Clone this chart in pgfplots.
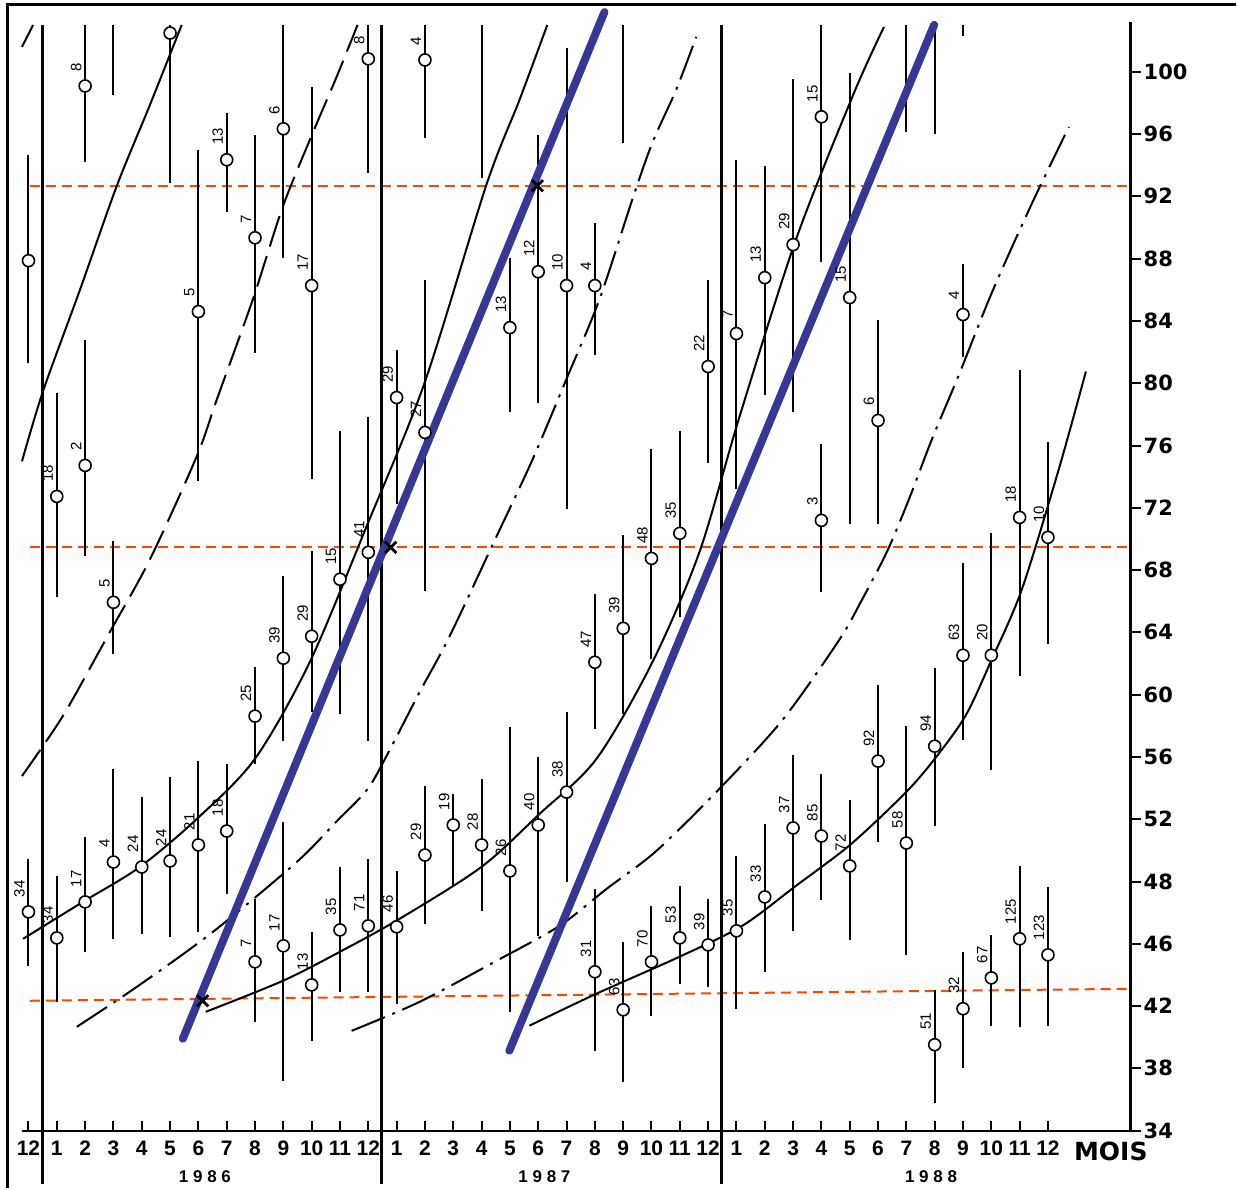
\documentclass[border=0pt]{standalone}
\usepackage{pgfplots}
\pgfplotsset{compat=1.18}
\usepackage{pgfplotstable}
\usepackage{fontspec}
\setmainfont{Liberation Sans}
\newfontfamily\dejavu{DejaVu Sans}
\definecolor{redline}{RGB}{255,69,0}
\definecolor{blueline}{RGB}{55,55,150}

% month index (0 = Dec 1985), value, bar low, bar high, label
\pgfplotstableread{
x y lo hi lab
0 48.05 44.58 51.45 34
1 74.73 68.25 81.40 18
1 46.38 42.27 50.36 34
2 101.09 96.22 105.01 8
2 76.72 70.88 84.80 2
2 48.69 45.48 52.86 17
3 67.93 64.60 71.84 5
3 51.25 46.32 57.22 4
4 50.93 46.64 55.42 24
5 51.32 46.44 56.71 24
6 86.60 75.69 96.99 5
6 52.35 46.76 57.73 21
7 96.35 93.01 99.36 13
7 53.24 49.20 57.54 18
8 91.34 83.97 97.95 7
8 60.62 57.54 63.76 25
8 44.84 40.99 48.88 7
9 98.34 90.06 105.01 6
9 64.34 59.02 69.60 39
9 45.87 37.21 53.82 17
10 88.27 75.82 101.03 17
10 65.75 60.88 71.20 29
10 43.36 39.77 46.76 13
11 69.41 60.75 78.90 15
11 46.89 42.92 50.93 35
12 102.83 95.51 105.01 8
12 71.14 59.02 79.86 41
12 47.15 42.92 51.45 71
13 81.08 74.22 84.16 29
13 47.09 42.15 50.68 46
14 102.76 97.76 105.01 4
14 78.84 68.64 88.65 27
14 51.70 47.28 56.13 29
15 53.63 49.72 55.62 19
16 52.35 48.11 56.58 28
17 85.57 80.12 90.06 13
17 50.68 41.63 59.91 26
18 89.16 80.76 97.95 12
18 53.63 46.51 57.99 40
19 88.27 73.90 103.53 10
19 55.74 49.97 60.88 38
20 88.27 83.84 92.31 4
20 64.08 59.79 68.45 47
20 44.20 39.13 49.52 31
21 66.26 60.75 72.23 39
21 41.76 37.14 46.12 63
22 70.75 64.28 77.75 48
22 44.84 41.38 48.43 70
23 72.36 66.97 78.90 35
23 46.38 43.43 49.72 53
24 83.07 76.85 88.65 22
24 45.93 43.24 48.88 39
25 85.19 75.18 96.35 7
25 46.83 41.83 51.64 35
26 88.78 81.27 95.96 13
26 49.01 44.20 53.69 33
27 90.90 80.12 101.54 29
27 53.44 46.83 58.12 37
28 99.11 89.81 105.01 15
28 73.19 68.57 78.07 3
28 52.92 48.82 56.90 85
29 87.50 72.94 101.93 15
29 51.00 46.25 55.23 72
30 79.61 72.94 86.09 6
30 57.73 52.54 62.61 92
31 52.47 45.29 59.98 58
32 58.69 53.56 63.70 94
32 39.52 35.80 43.04 51
33 86.41 83.71 89.68 4
33 64.53 59.08 70.43 63
33 41.83 38.04 45.48 32
34 64.53 57.16 72.36 20
34 43.81 40.74 46.57 67
35 73.38 63.19 82.88 18
35 46.32 40.67 51.00 125
36 72.10 65.24 78.20 10
36 45.29 40.74 49.65 123
}\labeled

\pgfplotstableread{
x y lo hi
0 89.87 83.33 96.67
5 104.49 94.87 105.01
}\unlabeled

\begin{document}
\begin{tikzpicture}
\begin{axis}[
  scale only axis, width=555pt, height=555pt,
  xmin=-0.23, xmax=38.92, ymin=34, ymax=105.2,
  clip=false,
  axis x line=bottom, axis y line=right,
  axis line style={-},
  x axis line style={line width=1pt},
  y axis line style={line width=1.5pt},
  major tick length=0pt,
  xtick={0,...,36},
  xticklabels={12,1,2,3,4,5,6,7,8,9,10,11,12,1,2,3,4,5,6,7,8,9,10,11,12,1,2,3,4,5,6,7,8,9,10,11,12},
  ytick={34,38,...,102},
  yticklabels={34,38,42,46,48,52,56,60,64,68,72,76,80,84,88,92,96,100},
  xticklabel style={font=\bfseries\fontsize{10.5}{12}\selectfont, yshift=-1.5pt},
  yticklabel style={font=\dejavu\bfseries\fontsize{10.5}{12}\selectfont, xshift=3pt},
]
% red dashed reference lines
\addplot[redline, line width=1pt, dash pattern=on 5pt off 3pt] coordinates {(0.05,94.68) (38.92,94.68)};
\addplot[redline, line width=1pt, dash pattern=on 5pt off 3pt] coordinates {(0.05,71.46) (38.92,71.46)};
\addplot[redline, line width=1pt, dash pattern=on 5pt off 3pt] coordinates {(0.05,42.34) (38.92,43.11)};

% tick spikes on the month axis and the value axis
\addplot[black, line width=1pt, unbounded coords=jump] coordinates {
 (0,34) (0,34.64) (0,nan) (1,34) (1,34.64) (1,nan) (2,34) (2,34.64) (2,nan) (3,34) (3,34.64) (3,nan)
 (4,34) (4,34.64) (4,nan) (5,34) (5,34.64) (5,nan) (6,34) (6,34.64) (6,nan) (7,34) (7,34.64) (7,nan)
 (8,34) (8,34.64) (8,nan) (9,34) (9,34.64) (9,nan) (10,34) (10,34.64) (10,nan) (11,34) (11,34.64) (11,nan)
 (12,34) (12,34.64) (12,nan) (13,34) (13,34.64) (13,nan) (14,34) (14,34.64) (14,nan) (15,34) (15,34.64) (15,nan)
 (16,34) (16,34.64) (16,nan) (17,34) (17,34.64) (17,nan) (18,34) (18,34.64) (18,nan) (19,34) (19,34.64) (19,nan)
 (20,34) (20,34.64) (20,nan) (21,34) (21,34.64) (21,nan) (22,34) (22,34.64) (22,nan) (23,34) (23,34.64) (23,nan)
 (24,34) (24,34.64) (24,nan) (25,34) (25,34.64) (25,nan) (26,34) (26,34.64) (26,nan) (27,34) (27,34.64) (27,nan)
 (28,34) (28,34.64) (28,nan) (29,34) (29,34.64) (29,nan) (30,34) (30,34.64) (30,nan) (31,34) (31,34.64) (31,nan)
 (32,34) (32,34.64) (32,nan) (33,34) (33,34.64) (33,nan) (34,34) (34,34.64) (34,nan) (35,34) (35,34.64) (35,nan)
 (36,34) (36,34.64)};
\addplot[black, line width=1pt, unbounded coords=jump] coordinates {
 (38.92,34) (39.27,34) (nan,34) (38.92,38) (39.27,38) (nan,38) (38.92,42) (39.27,42) (nan,42)
 (38.92,46) (39.27,46) (nan,46) (38.92,50) (39.27,50) (nan,50) (38.92,54) (39.27,54) (nan,54)
 (38.92,58) (39.27,58) (nan,58) (38.92,62) (39.27,62) (nan,62) (38.92,66) (39.27,66) (nan,66)
 (38.92,70) (39.27,70) (nan,70) (38.92,74) (39.27,74) (nan,74) (38.92,78) (39.27,78) (nan,78)
 (38.92,82) (39.27,82) (nan,82) (38.92,86) (39.27,86) (nan,86) (38.92,90) (39.27,90) (nan,90)
 (38.92,94) (39.27,94) (nan,94) (38.92,98) (39.27,98) (nan,98) (38.92,102) (39.27,102)};

% year separators
\addplot[black, line width=1.5pt] coordinates {(0.51,105.01) (0.51,30.6)};
\addplot[black, line width=1.5pt] coordinates {(12.47,105.01) (12.47,30.6)};
\addplot[black, line width=1.5pt] coordinates {(24.46,105.01) (24.46,30.6)};

% solid growth curves
\addplot[black, line width=1pt] coordinates {(-0.23,103.6) (0.16,105.0)};
\addplot[black, line width=1pt, smooth] coordinates {(-0.23,76.98) (0.51,81.47) (1.82,88.01) (3.12,94.68) (4.29,99.88) (5.41,105.01)};
\addplot[black, line width=1pt, smooth] coordinates {(-0.19,46.32) (1.92,48.69) (3.93,50.93) (5.94,54.01) (7.99,57.86) (9.93,64.08) (11.94,72.81) (13.99,82.04) (16.17,94.74) (17.34,100.20) (18.32,105.01)};
\addplot[black, line width=1pt, smooth] coordinates {(6.26,41.63) (8.98,43.62) (10.99,45.48) (13.10,47.60) (15.99,50.93) (18.04,54.33) (20.05,57.86) (22.03,64.08) (23.69,71.14) (25.10,79.80) (27.10,91.22) (29.15,100.64) (30.21,104.88)};
\addplot[black, line width=1pt, smooth] coordinates {(17.69,40.74) (20.05,42.79) (22.98,45.16) (25.20,47.15) (27.10,49.72) (29.05,52.41) (30.99,55.74) (32.05,57.99) (33.10,60.68) (34.02,64.28) (35.08,68.77) (36.38,76.46) (37.34,82.75)};

% dashed curve
\addplot[black, line width=1pt, smooth, dash pattern=on 16pt off 5pt] coordinates {(-0.23,56.77) (0.51,58.70) (1.36,61.07) (2.87,66.01) (4.29,70.69) (5.94,77.30) (6.65,80.95) (7.92,87.37) (8.98,93.33) (10.04,98.08) (10.88,101.67) (11.62,105.01)};
% dash-dot curves
\addplot[black, line width=1pt, smooth, dash pattern=on 18pt off 4pt on 1.5pt off 4pt] coordinates {(1.71,40.67) (3.83,43.24) (6.51,46.76) (9.47,51.25) (10.9,53.9) (12.0,56.0) (12.86,58.82) (13.81,62.16) (14.87,65.75) (16.53,72.17) (17.80,77.10) (18.99,82.24) (20.16,87.37) (21.32,93.78) (22.03,97.44) (22.87,100.84) (23.58,104.24)};
\addplot[black, line width=1pt, smooth, dash pattern=on 18pt off 4pt on 1.5pt off 4pt] coordinates {(11.41,40.41) (13.81,42.27) (16.52,44.90) (18.75,47.15) (20.41,49.52) (22.17,51.96) (24.39,55.94) (26.62,60.36) (28.62,65.49) (29.44,68.12) (30.32,71.20) (31.09,74.54) (31.90,78.39) (32.86,82.56) (34.02,87.82) (35.43,93.53) (36.74,98.46)};

% bars without a circle
\addplot[black, line width=1pt, unbounded coords=jump] coordinates {
 (3,100.52) (3,105.01) (3,nan)
 (16,95.19) (16,105.01) (16,nan)
 (21,97.44) (21,105.01) (21,nan)
 (31,98.14) (31,105.01) (31,nan)
 (32,98.01) (32,105.01) (32,nan)
 (33,104.30) (33,105.01)};

% circles with bars
\addplot[only marks, mark=*, mark size=3pt, mark options={fill=white, draw=black, line width=0.8pt},
  error bars/.cd, y dir=both, y explicit, error mark=none, error bar style={line width=1pt, black}]
  table[x=x, y=y, y error plus expr=\thisrow{hi}-\thisrow{y}, y error minus expr=\thisrow{y}-\thisrow{lo}] {\unlabeled};
\addplot[only marks, mark=*, mark size=3pt, mark options={fill=white, draw=black, line width=0.8pt},
  nodes near coords, point meta=explicit symbolic,
  nodes near coords style={xshift=-4.5pt, yshift=7pt, rotate=90, anchor=west, inner sep=0pt, font=\fontsize{7.5}{8}\selectfont, black},
  error bars/.cd, y dir=both, y explicit, error mark=none, error bar style={line width=1pt, black}]
  table[x=x, y=y, meta=lab, y error plus expr=\thisrow{hi}-\thisrow{y}, y error minus expr=\thisrow{y}-\thisrow{lo}] {\labeled};

% blue lines
\addplot[blueline, line width=4pt, line cap=round] coordinates {(5.45,39.90) (20.34,105.84)};
\addplot[blueline, line width=4pt, line cap=round] coordinates {(16.98,39.13) (31.98,105.01)};

% crossing markers
\addplot[only marks, mark=x, mark size=4pt, black, line width=1.4pt] coordinates {(6.15,42.34) (12.79,71.46) (17.97,94.68)};

\node[font=\bfseries\fontsize{8.5}{10}\selectfont, yshift=-23pt] at (axis cs:6.23,34) {1 9 8 6};
\node[font=\bfseries\fontsize{8.5}{10}\selectfont, yshift=-23pt] at (axis cs:18.22,34) {1 9 8 7};
\node[font=\bfseries\fontsize{8.5}{10}\selectfont, yshift=-23pt] at (axis cs:31.87,34) {1 9 8 8};
\node[font=\dejavu\bfseries\fontsize{12.5}{14}\selectfont, yshift=-10.5pt] at (axis cs:38.22,34) {MOIS};

\draw[line width=1.5pt] (axis description cs:-0.01351,-0.05135) -- (axis description cs:-0.01351,1.01532) -- (axis description cs:1.09459,1.01532);
\path (axis description cs:-0.01982,-0.05135) rectangle (axis description cs:1.09459,1.01982);
\end{axis}
\end{tikzpicture}
\end{document}
